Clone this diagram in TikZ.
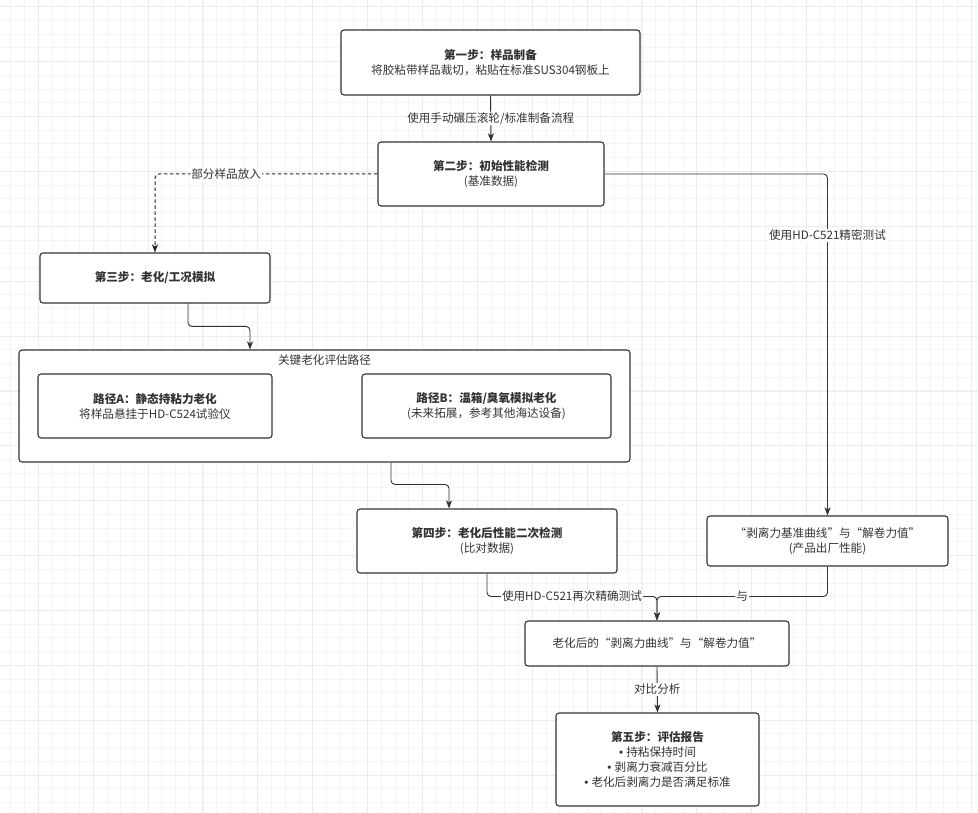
\documentclass[tikz,border=0pt]{standalone}
\usepackage{fontspec}
\setmainfont{Noto Sans CJK SC}
\newfontfamily\bulletfont{Liberation Sans}
\usetikzlibrary{arrows.meta,calc}
\definecolor{ink}{HTML}{333333}
\definecolor{gridminor}{HTML}{F4F4F4}
\definecolor{gridmajor}{HTML}{EBEBEB}
\newcommand{\bul}{{\bulletfont •\ }}
\begin{document}
\begin{tikzpicture}[x=1pt,y=-1pt,
  box/.style={draw=ink, line width=1.1pt, rounded corners=3pt, fill=white, text=ink, align=center, inner sep=0pt, font=\fontsize{11.6}{15}\selectfont},
  arr/.style={draw=ink, line width=0.9pt, rounded corners=4pt, -{Stealth[length=8pt,width=6pt,inset=2pt]}},
  lbl/.style={fill=white, text=ink, inner sep=1pt, font=\fontsize{11.6}{13}\selectfont}]
\useasboundingbox (0,0) rectangle (978,813);
\fill[white] (0,0) rectangle (978,813);
% grid
\foreach \i in {0,...,71} {\pgfmathsetmacro\xx{10.86+13.72*\i}\draw[gridminor,line width=0.8pt] (\xx,0) -- (\xx,813);}
\foreach \i in {0,...,58} {\pgfmathsetmacro\yy{6.7+13.72*\i}\draw[gridminor,line width=0.8pt] (0,\yy) -- (978,\yy);}
\foreach \i in {0,...,17} {\pgfmathsetmacro\xx{38.3+54.87*\i}\draw[gridmajor,line width=1pt] (\xx,0) -- (\xx,813);}
\foreach \i in {0,...,14} {\pgfmathsetmacro\yy{6.7+54.9*\i}\draw[gridmajor,line width=1pt] (0,\yy) -- (978,\yy);}

% nodes
\node[box, minimum width=299pt, minimum height=65pt] (s1) at (490.5,62.5) {\textbf{第一步：样品制备}\\将胶粘带样品裁切，粘贴在标准SUS304钢板上};
\node[box, minimum width=226pt, minimum height=64pt] (s2) at (491,174) {\textbf{第二步：初始性能检测}\\(基准数据)};
\node[box, minimum width=230pt, minimum height=50pt] (s3) at (155,278) {\textbf{第三步：老化/工况模拟}};
\node[box, minimum width=611pt, minimum height=112pt] (cont) at (324.5,406) {};
\node[text=ink, font=\fontsize{11.6}{13}\selectfont, anchor=center] (ctitle) at (324.5,360) {关键老化评估路径};
\node[box, minimum width=234pt, minimum height=64pt] (pA) at (155,406) {\textbf{路径A：静态持粘力老化}\\将样品悬挂于HD-C524试验仪};
\node[box, minimum width=249pt, minimum height=64pt] (pB) at (486.5,406) {\textbf{路径B：温箱/臭氧模拟老化}\\(未来拓展，参考其他海达设备)};
\node[box, minimum width=260pt, minimum height=64pt] (s4) at (487,541) {\textbf{第四步：老化后性能二次检测}\\(比对数据)};
\node[box, minimum width=241pt, minimum height=50pt] (spec) at (827.5,541) {“剥离力基准曲线”与“解卷力值”\\(产品出厂性能)};
\node[box, minimum width=264pt, minimum height=45pt] (res) at (657,643.5) {老化后的“剥离力曲线”与“解卷力值”};
\node[box, minimum width=203pt, minimum height=93pt] (s5) at (657.5,759.5) {\textbf{第五步：评估报告}\\\bul 持粘保持时间\\\bul 剥离力衰减百分比\\\bul 老化后剥离力是否满足标准};

% edges
\draw[arr] (s1.south) -- node[lbl] {使用手动碾压滚轮/标准制备流程} (s2.north);
\draw[arr, draw=black!85, line width=1pt, dash pattern=on 3.5pt off 2.5pt] (s2.west) -| node[lbl, pos=0.34] {部分样品放入} (s3.north);
\draw[arr] ([xshift=33pt]s3.south) |- ([xshift=-74.5pt,yshift=23pt]cont.north) -- ([xshift=-74.5pt]cont.north);
\draw[arr] ([xshift=66.5pt]cont.south) |- ([xshift=-38pt,yshift=24pt]s4.north) -- ([xshift=-38pt]s4.north);
\draw[arr] (s2.east) -| node[lbl, pos=0.59] {使用HD-C521精密测试} (spec.north);
\coordinate (join) at ([yshift=24pt]res.north);
\draw[arr] (s4.south) |- node[lbl, pos=0.75] {使用HD-C521再次精确测试} (join) -- (res.north);
\draw[arr] (spec.south) |- node[lbl, pos=0.75] {与} (join) -- (res.north);
\draw[arr] (res.south) -- node[lbl] {对比分析} (s5.north);
\end{tikzpicture}
\end{document}
